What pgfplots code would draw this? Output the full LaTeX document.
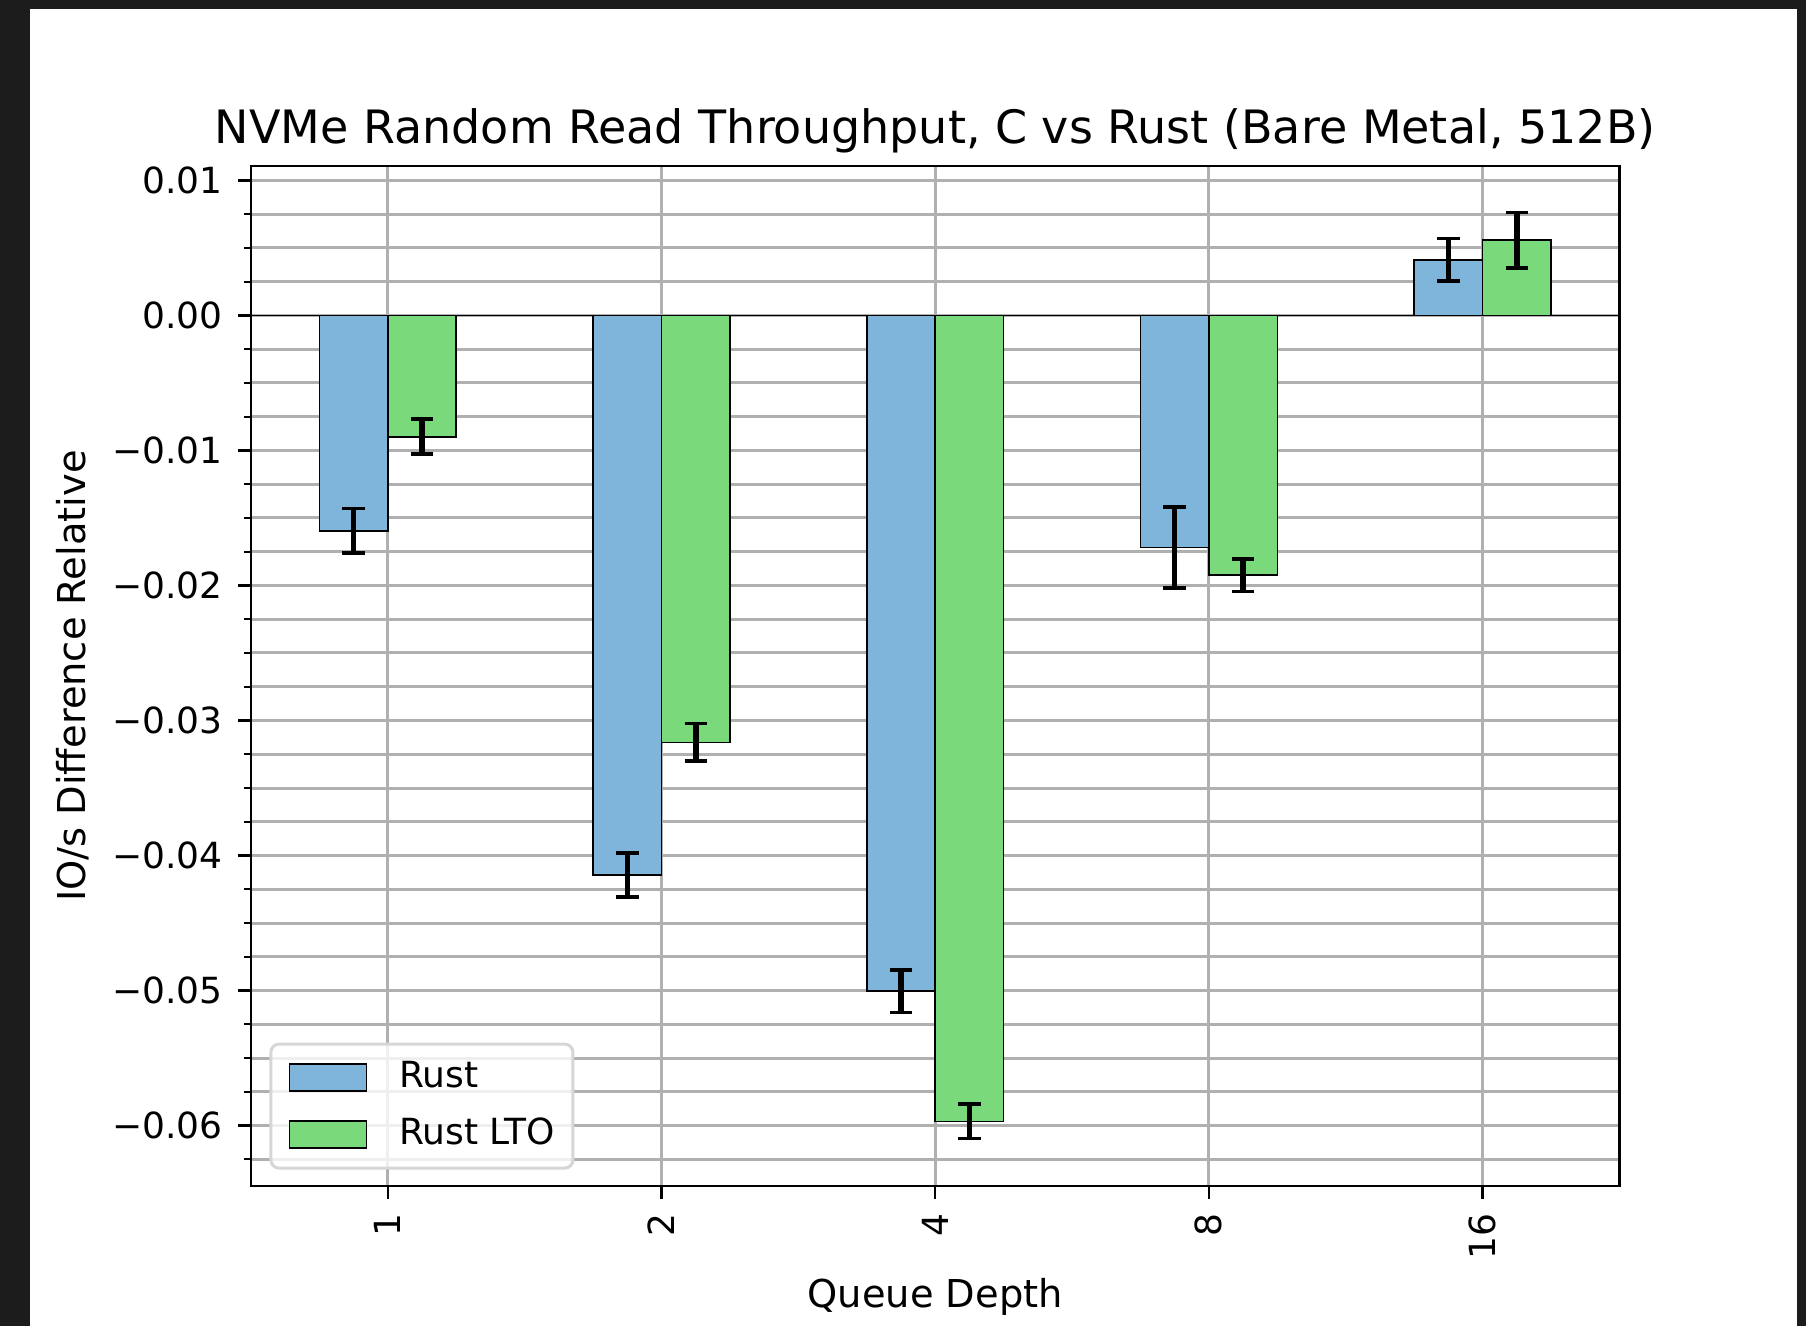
\documentclass[border=0pt]{standalone}
\usepackage{pgfplots}
\pgfplotsset{compat=1.18}
\usepackage{fontspec}
\setmainfont{DejaVu Sans}
\definecolor{rustblue}{HTML}{7FB5DA}
\definecolor{rustgreen}{HTML}{7AD97A}
\definecolor{gridgray}{HTML}{B0B0B0}
\definecolor{darkframe}{HTML}{1C1C1C}
\definecolor{legendedge}{HTML}{D6D6D6}
\begin{document}
\begin{tikzpicture}
\fill[darkframe] (0,0) rectangle (451.5pt,331.5pt);
\fill[white] (7.5pt,0) rectangle (449.25pt,329.25pt);
\begin{axis}[
  at={(62.75pt,35pt)}, anchor=south west,
  scale only axis, width=342.1pt, height=254.95pt,
  xmin=-0.5, xmax=4.5, ymin=-0.06448, ymax=0.01106,
  scaled y ticks=false,
  axis line style={line width=0.55pt},
  tick align=outside,
  xtick={0,1,2,3,4}, xticklabels={1,2,4,8,16},
  xtick pos=lower, ytick pos=left,
  ytick={-0.06,-0.05,-0.04,-0.03,-0.02,-0.01,0,0.01},
  yticklabels={−0.06,−0.05,−0.04,−0.03,−0.02,−0.01,0.00,0.01},
  minor ytick={-0.0625,-0.0575,-0.055,-0.0525,-0.0475,-0.045,-0.0425,-0.0375,-0.035,-0.0325,-0.0275,-0.025,-0.0225,-0.0175,-0.015,-0.0125,-0.0075,-0.005,-0.0025,0.0025,0.005,0.0075},
  major tick length=3.25pt, minor tick length=1.75pt,
  every tick/.style={black, line width=0.55pt},
  xmajorgrids, ymajorgrids, yminorgrids,
  major grid style={gridgray, line width=0.75pt},
  minor grid style={gridgray, line width=0.75pt},
  tick label style={font=\fontsize{9}{10}\selectfont},
  xticklabel style={rotate=90, anchor=east, inner sep=0pt},
  yticklabel style={anchor=east, inner sep=0pt},
  xticklabel shift=3.5pt, yticklabel shift=3.6pt,
  title={NVMe Random Read Throughput, C vs Rust (Bare Metal, 512B)},
  title style={at={(axis description cs:0.5,1)}, anchor=base, yshift=-0.4pt, inner sep=0pt, font=\fontsize{11.5}{14}\selectfont},
  xlabel={Queue Depth},
  xlabel style={at={(axis description cs:0.5,0)}, anchor=base, yshift=-30.3pt, inner sep=0pt, font=\fontsize{9.6}{11}\selectfont},
  ylabel={IO/s Difference Relative},
  ylabel style={at={([xshift=-41.3pt]axis description cs:0,0.5)}, rotate=0, anchor=base, inner sep=0pt, font=\fontsize{9.6}{11}\selectfont},
  legend style={
    at={([xshift=4.6pt,yshift=4.1pt]axis description cs:0,0)}, anchor=south west,
    draw=legendedge, line width=0.75pt, rounded corners=2pt,
    fill=white, fill opacity=0.8, text opacity=1, draw opacity=1,
    inner xsep=4.4pt, inner ysep=4.3pt,
    font=\fontsize{9}{10}\selectfont,
    /tikz/every odd column/.append style={column sep=8pt},
    row sep=6.15pt,
    nodes={inner sep=0pt},
  },
  legend cell align=left,
  legend image code/.code={\draw[#1, sharp corners, line width=0.4pt, fill opacity=1, draw opacity=1] (0pt,-3.4pt) rectangle (19.3pt,3.4pt);},
]
\addplot[forget plot, black, line width=0.35pt] coordinates {(-0.5,0) (4.5,0)};
\addplot[ybar, bar width=0.25, bar shift=0, fill=rustblue, draw=black, line width=0.4pt,
  error bars/.cd, y dir=both, y explicit,
  error bar style={line width=1.4pt, black},
  error mark options={rotate=90, mark size=2.8pt, line width=0.9pt, black}]
  coordinates {
  (-0.125,-0.01596) +- (0,0.00165)
  (0.875,-0.04144) +- (0,0.00162)
  (1.875,-0.05005) +- (0,0.00158)
  (2.875,-0.01719) +- (0,0.00300)
  (3.875,0.00413) +- (0,0.00156)
  };
\addlegendentry{Rust}
\addplot[ybar, bar width=0.25, bar shift=0, fill=rustgreen, draw=black, line width=0.4pt,
  error bars/.cd, y dir=both, y explicit,
  error bar style={line width=1.4pt, black},
  error mark options={rotate=90, mark size=2.8pt, line width=0.9pt, black}]
  coordinates {
  (0.125,-0.00898) +- (0,0.00130)
  (1.125,-0.03162) +- (0,0.00140)
  (2.125,-0.05969) +- (0,0.00128)
  (3.125,-0.01923) +- (0,0.00121)
  (4.125,0.00557) +- (0,0.00205)
  };
\addlegendentry{Rust LTO}
\end{axis}
\pgfresetboundingbox
\path[use as bounding box] (0,0) rectangle (451.5pt,331.5pt);
\end{tikzpicture}
\end{document}
